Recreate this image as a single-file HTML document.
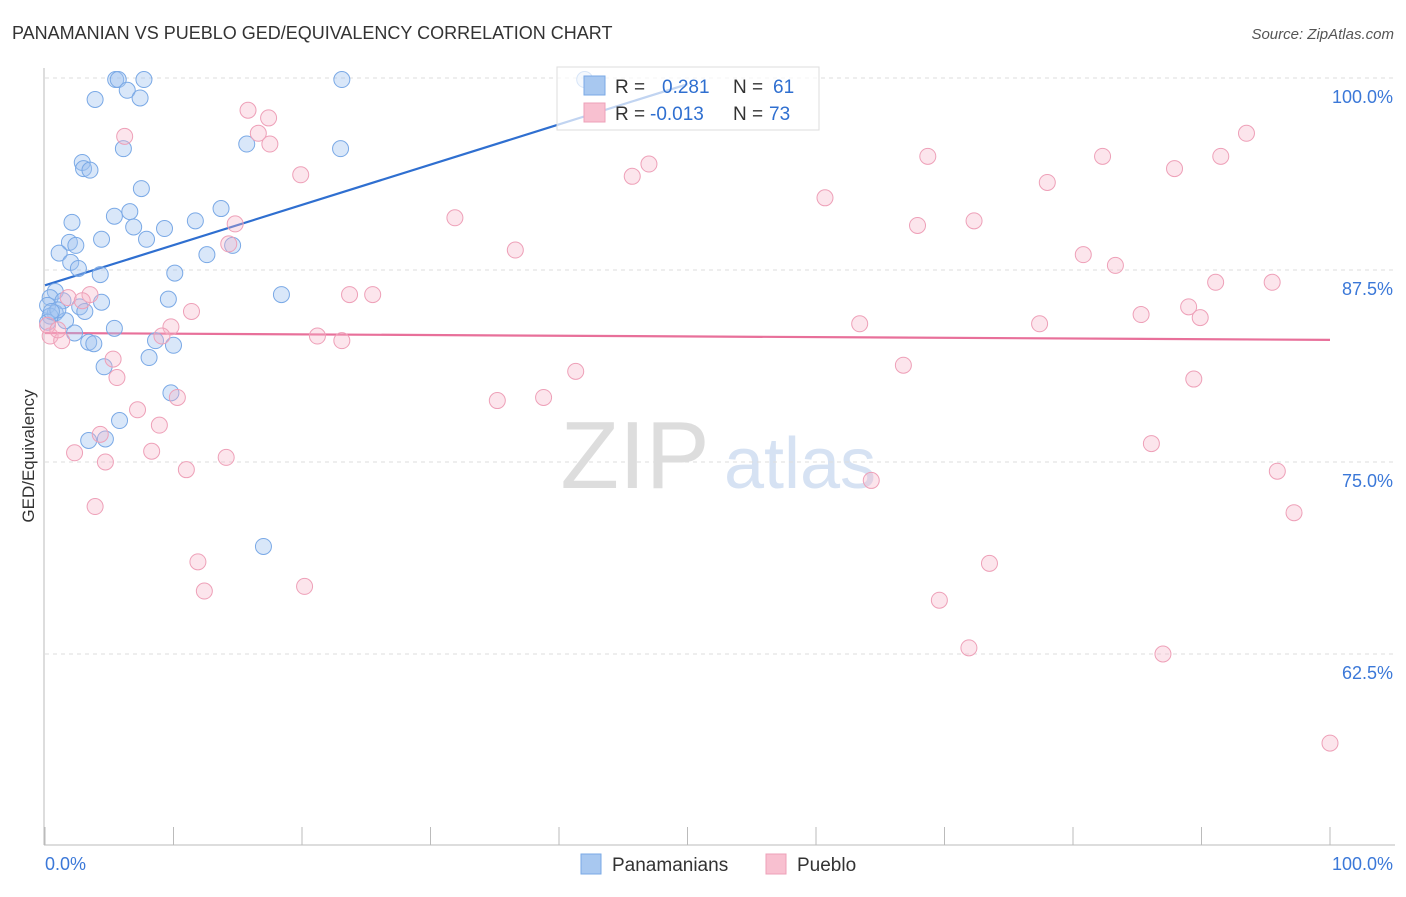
<!DOCTYPE html>
<html><head><meta charset="utf-8"><style>
body{margin:0;background:#fff;font-family:"Liberation Sans",sans-serif}
svg text{font-family:"Liberation Sans",sans-serif}
</style></head><body>
<svg id="c" width="1406" height="892" xmlns="http://www.w3.org/2000/svg">
<text x="12" y="39" font-size="18" fill="#333">PANAMANIAN VS PUEBLO GED/EQUIVALENCY CORRELATION CHART</text>
<text x="1394" y="39" font-size="15" fill="#555" text-anchor="end" font-style="italic">Source: ZipAtlas.com</text>
<g><text x="635" y="488" font-size="96" fill="#ddd" font-family="Liberation Serif" text-anchor="middle">ZIP</text><text x="800" y="488" font-size="72" fill="#d6e2f3" text-anchor="middle">atlas</text></g>
<g id="grid"></g><g id="axes"></g><g id="trend"></g><g id="pts"></g>
<text transform="translate(34,456) rotate(-90)" font-size="17" fill="#333" text-anchor="middle">GED/Equivalency</text>
<g>
<rect x="557" y="67" width="262" height="63" fill="rgba(255,255,255,0.7)" stroke="#ddd"/>
<rect x="584" y="76" width="21" height="19" fill="#a8c8f0" stroke="#7aa9e6"/>
<rect x="584" y="103" width="21" height="19" fill="#f8c0d0" stroke="#eea0b8"/>
<text x="615" y="93" font-size="19" fill="#333">R =</text><text x="662" y="93" font-size="19" fill="#2f6fd0">0.281</text>
<text x="733" y="93" font-size="19" fill="#333">N =</text><text x="773" y="93" font-size="19" fill="#2f6fd0">61</text>
<text x="615" y="120" font-size="19" fill="#333">R =</text><text x="650" y="120" font-size="19" fill="#2f6fd0">-0.013</text>
<text x="733" y="120" font-size="19" fill="#333">N =</text><text x="769" y="120" font-size="19" fill="#2f6fd0">73</text>
</g>
<g>
<rect x="581" y="854" width="20" height="20" fill="#a8c8f0" stroke="#7aa9e6"/><text x="612" y="871" font-size="19" fill="#333">Panamanians</text>
<rect x="766" y="854" width="20" height="20" fill="#f8c0d0" stroke="#eea0b8"/><text x="797" y="871" font-size="19" fill="#333">Pueblo</text>
</g>
</svg>
<script>
const blueX=[5.5,5.7,7.7,23.1,3.9,6.4,7.4,6.1,15.7,23.0,2.9,3.0,3.5,7.5,13.7,2.1,5.4,6.6,11.7,6.9,9.3,4.4,7.9,1.9,2.4,14.6,12.6,1.1,2.0,2.6,4.3,10.1,0.8,0.4,1.4,4.4,9.6,18.4,0.2,2.7,3.1,0.8,0.4,1.6,5.4,2.3,3.4,3.8,8.6,10.0,8.1,4.6,9.8,5.8,3.4,4.7,17.0,42.0,0.2,1.0,0.5];
const blueY=[99.9,99.9,99.9,99.9,98.6,99.2,98.7,95.4,95.7,95.4,94.5,94.1,94.0,92.8,91.5,90.6,91.0,91.3,90.7,90.3,90.2,89.5,89.5,89.3,89.1,89.1,88.5,88.6,88.0,87.6,87.2,87.3,86.1,85.7,85.5,85.4,85.6,85.9,85.2,85.1,84.8,84.7,84.5,84.2,83.7,83.4,82.8,82.7,82.9,82.6,81.8,81.2,79.5,77.7,76.4,76.5,69.5,99.9,84.1,84.9,84.8];
const pinkX=[15.8,6.2,17.4,16.6,17.5,47.0,45.7,19.9,68.7,82.3,93.5,91.5,87.9,78.0,60.7,31.9,67.9,72.3,14.8,14.3,36.6,80.8,83.3,91.1,95.5,3.5,1.8,2.9,23.7,25.5,11.4,89.0,85.3,89.9,63.4,77.4,9.8,9.1,21.2,23.1,0.4,1.3,5.3,66.8,41.3,5.6,89.4,35.2,38.8,10.3,7.2,8.9,86.1,4.3,2.3,8.3,4.7,14.1,11.0,64.3,95.9,3.9,97.2,11.9,73.5,12.4,20.2,69.6,71.9,87.0,100.0,0.2,1.0];
const pinkY=[97.9,96.2,97.4,96.4,95.7,94.4,93.6,93.7,94.9,94.9,96.4,94.9,94.1,93.2,92.2,90.9,90.4,90.7,90.5,89.2,88.8,88.5,87.8,86.7,86.7,85.9,85.7,85.5,85.9,85.9,84.8,85.1,84.6,84.4,84.0,84.0,83.8,83.2,83.2,82.9,83.2,82.9,81.7,81.3,80.9,80.5,80.4,79.0,79.2,79.2,78.4,77.4,76.2,76.8,75.6,75.7,75.0,75.3,74.5,73.8,74.4,72.1,71.7,68.5,68.4,66.6,66.9,66.0,62.9,62.5,56.7,83.9,83.6];
const yTicks=[100,87.5,75,62.5];
const yTickLabels=["100.0%","87.5%","75.0%","62.5%"];
const blueTrendX=[0,50];const blueTrendY=[86.5,99.6];
const pinkTrendX=[0,100];const pinkTrendY=[83.4,82.95];
const sx=v=>45+v*12.85, sy=v=>78+(100-v)*15.36;
const NS="http://www.w3.org/2000/svg";
function mk(p,t,a){const e=document.createElementNS(NS,t);for(const k in a)e.setAttribute(k,a[k]);p.appendChild(e);return e;}
const grid=document.getElementById('grid'),axes=document.getElementById('axes'),tr=document.getElementById('trend'),pts=document.getElementById('pts');
yTicks.forEach((v,i)=>{const l=mk(grid,'line',{x1:45,x2:1395,y1:sy(v),y2:sy(v),stroke:'#ddd','stroke-dasharray':'4,4'});


const t=mk(grid,'text',{x:1393,y:sy(v)+25,'font-size':18,fill:'#3b78d8','text-anchor':'end'});t.textContent=yTickLabels[i];

});
mk(axes,'line',{x1:44,x2:44,y1:68,y2:845,stroke:'#bbb'});
mk(axes,'line',{x1:44,x2:1395,y1:845,y2:845,stroke:'#bbb'});
for(let i=0;i<=10;i++){const l=mk(axes,'line',{x1:sx(i*10),x2:sx(i*10),y1:827,y2:845,stroke:'#bbb'});

}
let t0=mk(axes,'text',{x:45,y:870,'font-size':18,fill:'#3b78d8'});t0.textContent='0.0%';


let t1=mk(axes,'text',{x:1393,y:870,'font-size':18,fill:'#3b78d8','text-anchor':'end'});t1.textContent='100.0%';


function dots(X,Y,fill,stroke,name){X.forEach((x,i)=>{const c=mk(pts,'circle',{cx:sx(x),cy:sy(Y[i]),r:8,fill:fill,stroke:stroke,'stroke-width':1});

});}
dots(blueX,blueY,'rgba(160,196,240,0.4)','#7aa9e6','panamanian-point');
dots(pinkX,pinkY,'rgba(246,180,200,0.35)','#eea0b8','pueblo-point');
const bl=mk(tr,'line',{x1:sx(blueTrendX[0]),y1:sy(blueTrendY[0]),x2:sx(blueTrendX[1]),y2:sy(blueTrendY[1]),stroke:'#2f6fd0','stroke-width':2.2});


const pl=mk(tr,'line',{x1:sx(pinkTrendX[0]),y1:sy(pinkTrendY[0]),x2:sx(pinkTrendX[1]),y2:sy(pinkTrendY[1]),stroke:'#e8709a','stroke-width':2.2});


</script>
</body></html>
